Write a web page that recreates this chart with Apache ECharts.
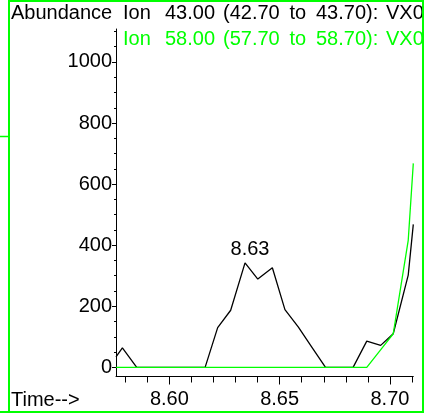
<!DOCTYPE html>
<html>
<head>
<meta charset="utf-8">
<script src="https://cdn.jsdelivr.net/npm/echarts@6/dist/echarts.min.js"></script>
<style>
html,body{margin:0;padding:0;background:#fff;}
#chart{width:425px;height:413px;}
</style>
</head>
<body>
<div id="chart"></div>
<script>
// ---- data ----
const timeA = [8.5758, 8.5787, 8.5852, 8.6162, 8.6219, 8.6278, 8.6343, 8.6401, 8.6467, 8.6524, 8.6585, 8.6645, 8.6708, 8.6833, 8.6895, 8.6958, 8.7015, 8.7083, 8.7106];
const ion43 = [34, 64, 0, 0, 130, 187, 342, 289, 326, 189, 132, 67, 0, 0, 86, 72, 110, 302, 468];
const timeB = [8.5758, 8.6895, 8.6955, 8.7015, 8.7083, 8.7106];
const ion58 = [0, 0, 55, 110, 416, 668];
const peakTime = 8.6343;
const peakValue = 342;
const peakLabel = '8.63';
const xRange = [8.5758, 8.7106];
const yRange = [-30, 1108];
const xMinorTicks = [8.58, 8.71, 0.01];
const xMajorTicks = [8.60, 8.70, 0.05];
const yMinorTicks = [0, 1100, 50];
const yMajorTicks = [0, 1000, 200];
const legend1 = ['Ion', '43.00', '(42.70', 'to', '43.70):', 'VX0'];
const legend2 = ['Ion', '58.00', '(57.70', 'to', '58.70):', 'VX0'];
const yName = 'Abundance';
const xName = 'Time-->';

const FONT = "'Liberation Sans', Arial, sans-serif";
const GREEN = '#00ff00';
const tokenX = [123, 165, 223, 289.5, 316, 386];

// pixel geometry of plot (positions only)
const L = 116, R = 413.3, T = 29, B = 376.5;
const pxPerUnit = (B - T) / (yRange[1] - yRange[0]);
const xPx = t => L + (t - xRange[0]) / (xRange[1] - xRange[0]) * (R - L);
const yPx = v => B - (v - yRange[0]) * pxPerUnit;

const hiddenX = gi => ({type:'value', gridIndex:gi, min:0, max:1, show:false});
const hiddenY = gi => ({type:'value', gridIndex:gi, min:0, max:1, show:false});

const grids = [
  {left:L, width:R-L, top:T, height:B-T},
  {left:xPx(xMinorTicks[0]), width:xPx(xMinorTicks[1])-xPx(xMinorTicks[0]), top:T, height:B-T},
  {left:xPx(xMajorTicks[0]), width:xPx(xMajorTicks[1])-xPx(xMajorTicks[0]), top:T, height:B-T},
  {left:L, width:R-L, top:yPx(yMinorTicks[1]), height:yPx(yMinorTicks[0])-yPx(yMinorTicks[1])},
  {left:L, width:R-L, top:yPx(yMajorTicks[1]), height:yPx(yMajorTicks[0])-yPx(yMajorTicks[1])}
];

const xAxes = [
  {type:'value', gridIndex:0, min:xRange[0], max:xRange[1],
   axisLine:{show:true, onZero:false, lineStyle:{color:'#000', width:1}},
   axisTick:{show:false}, axisLabel:{show:false}, splitLine:{show:false}},
  {type:'value', gridIndex:1, min:xMinorTicks[0], max:xMinorTicks[1], interval:xMinorTicks[2],
   axisLine:{show:false, onZero:false}, axisTick:{show:true, length:6, lineStyle:{color:'#000'}},
   axisLabel:{show:false}, splitLine:{show:false}},
  {type:'value', gridIndex:2, min:xMajorTicks[0], max:xMajorTicks[1], interval:xMajorTicks[2],
   axisLine:{show:false, onZero:false}, axisTick:{show:true, length:8, lineStyle:{color:'#000'}},
   axisLabel:{show:true, margin:13, color:'#000', fontSize:20, fontFamily:FONT,
     formatter: v => v.toFixed(2)}, splitLine:{show:false}},
  hiddenX(3), hiddenX(4)
];

const yAxes = [
  {type:'value', gridIndex:0, min:yRange[0], max:yRange[1],
   axisLine:{show:true, onZero:false, lineStyle:{color:'#000', width:1}},
   axisTick:{show:false}, axisLabel:{show:false}, splitLine:{show:false}},
  hiddenY(1), hiddenY(2),
  {type:'value', gridIndex:3, min:yMinorTicks[0], max:yMinorTicks[1], interval:yMinorTicks[2],
   axisLine:{show:false, onZero:false}, axisTick:{show:true, length:2, lineStyle:{color:'#000'}},
   axisLabel:{show:false}, splitLine:{show:false}},
  {type:'value', gridIndex:4, min:yMajorTicks[0], max:yMajorTicks[1], interval:yMajorTicks[2],
   axisLine:{show:false, onZero:false}, axisTick:{show:true, length:4, lineStyle:{color:'#000'}},
   axisLabel:{show:true, margin:4, color:'#000', fontSize:20, fontFamily:FONT,
     formatter: v => String(v)}, splitLine:{show:false}}
];

const textEl = (x, y, s, color) => ({type:'text', x:x, y:y, z:50,
  style:{text:s, fill:color, font:'20px ' + FONT, textAlign:'left', textVerticalAlign:'middle'}});

const graphics = [];
legend1.forEach((s,i) => graphics.push(textEl(tokenX[i], 13.5, s, '#000')));
legend2.forEach((s,i) => graphics.push(textEl(tokenX[i], 39.5, s, GREEN)));
graphics.push(textEl(11, 13.5, yName, '#000'));
graphics.push(textEl(11, 400, xName, '#000'));
graphics.push({type:'rect', z:60, shape:{x:422, y:0, width:10, height:60}, style:{fill:'#fff'}});
graphics.push({type:'rect', z:70, shape:{x:9, y:1, width:414, height:411}, style:{fill:'none', stroke:GREEN, lineWidth:2}});
graphics.push({type:'line', z:70, shape:{x1:0, y1:136.5, x2:9, y2:136.5}, style:{stroke:GREEN, lineWidth:1.5}});
graphics.push({type:'line', z:70, shape:{x1:0, y1:412, x2:9, y2:412}, style:{stroke:GREEN, lineWidth:2}});

const chart = echarts.init(document.getElementById('chart'), null, {renderer:'canvas'});
chart.setOption({
  animation:false,
  backgroundColor:'#fff',
  grid:grids,
  xAxis:xAxes,
  yAxis:yAxes,
  graphic:graphics,
  series:[
    {type:'line', name:'Ion 43.00', xAxisIndex:0, yAxisIndex:0, data:timeA.map((t,i)=>[t, ion43[i]]),
     showSymbol:false, symbol:'none', clip:true, z:3,
     lineStyle:{color:'#000', width:1.3},
     markPoint:{symbol:'circle', symbolSize:0, silent:true,
       data:[{coord:[peakTime, peakValue]}],
       label:{show:true, position:'top', distance:3, offset:[5,0], formatter:peakLabel,
         color:'#000', fontSize:20, fontFamily:FONT}}},
    {type:'line', name:'Ion 58.00', xAxisIndex:0, yAxisIndex:0, data:timeB.map((t,i)=>[t, ion58[i]]),
     showSymbol:false, symbol:'none', clip:true, z:4,
     lineStyle:{color:GREEN, width:1.3}}
  ]
});
</script>
</body>
</html>
